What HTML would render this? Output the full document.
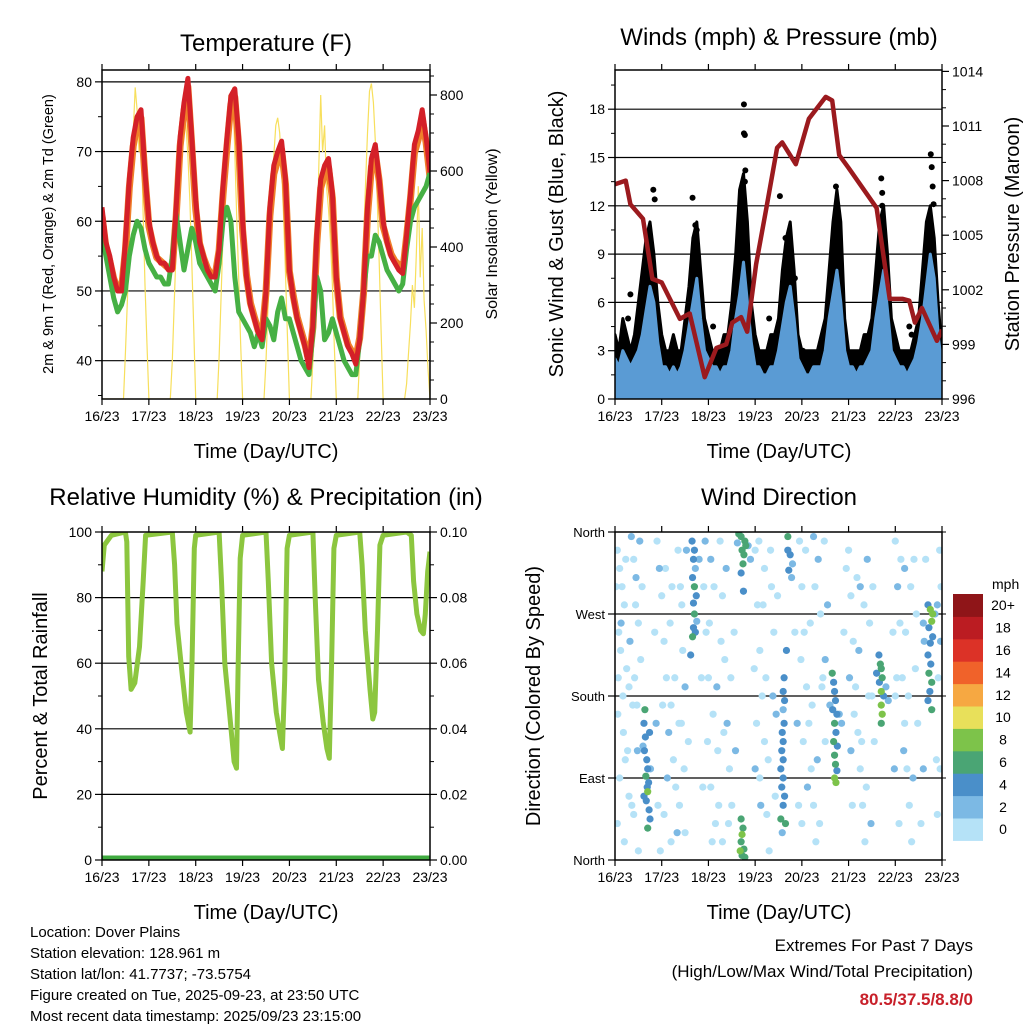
<!DOCTYPE html>
<html><head><meta charset="utf-8"><style>
html,body{margin:0;padding:0;background:#fff;}
svg{display:block;font-family:"Liberation Sans",Arial,sans-serif;}
</style></head><body>
<svg id="c" width="1024" height="1024" viewBox="0 0 1024 1024" xmlns="http://www.w3.org/2000/svg">
<defs>
<clipPath id="cp1"><rect x="102" y="70" width="328" height="329"/></clipPath>
<clipPath id="cp2"><rect x="615" y="70" width="327" height="329"/></clipPath>
<clipPath id="cp3"><rect x="102" y="532" width="328" height="328"/></clipPath>
<clipPath id="cp4"><rect x="615" y="532" width="327" height="328"/></clipPath>
</defs>
<text x="266" y="51" font-size="24" text-anchor="middle">Temperature (F)</text>
<text x="779" y="45" font-size="24" text-anchor="middle">Winds (mph) &amp; Pressure (mb)</text>
<text x="266" y="505" font-size="24" text-anchor="middle">Relative Humidity (%) &amp; Precipitation (in)</text>
<text x="779" y="505" font-size="24" text-anchor="middle">Wind Direction</text>
<text x="266" y="458" font-size="20" text-anchor="middle">Time (Day/UTC)</text>
<text x="779" y="458" font-size="20" text-anchor="middle">Time (Day/UTC)</text>
<text x="266" y="919" font-size="20" text-anchor="middle">Time (Day/UTC)</text>
<text x="779" y="919" font-size="20" text-anchor="middle">Time (Day/UTC)</text>
<text transform="translate(53,234) rotate(-90)" font-size="14.5" text-anchor="middle">2m &amp; 9m T (Red, Orange) &amp; 2m Td (Green)</text>
<text transform="translate(497,234) rotate(-90)" font-size="16" text-anchor="middle">Solar Insolation (Yellow)</text>
<text transform="translate(563,234) rotate(-90)" font-size="20" text-anchor="middle">Sonic Wind &amp; Gust (Blue, Black)</text>
<text transform="translate(1019,234) rotate(-90)" font-size="20" text-anchor="middle">Station Pressure (Maroon)</text>
<text transform="translate(47,696) rotate(-90)" font-size="20" text-anchor="middle">Percent &amp; Total Rainfall</text>
<text transform="translate(540,696) rotate(-90)" font-size="20" text-anchor="middle">Direction (Colored By Speed)</text>
<g font-size="15">
<text x="30" y="937">Location: Dover Plains</text>
<text x="30" y="958">Station elevation: 128.961 m</text>
<text x="30" y="979">Station lat/lon: 41.7737; -73.5754</text>
<text x="30" y="1000">Figure created on Tue, 2025-09-23, at 23:50 UTC</text>
<text x="30" y="1021">Most recent data timestamp: 2025/09/23 23:15:00</text>
</g>
<text x="973" y="951" font-size="17" text-anchor="end">Extremes For Past 7 Days</text>
<text x="973" y="977" font-size="17" text-anchor="end">(High/Low/Max Wind/Total Precipitation)</text>
<text x="973" y="1005" font-size="17" font-weight="bold" fill="#c8202a" text-anchor="end">80.5/37.5/8.8/0</text>
</svg>
<script>
// ---------- data ----------
const dayLabels = ["16/23","17/23","18/23","19/23","20/23","21/23","22/23","23/23"];
const tempRed = [62,57,55,52,50,50,57,66,72,75,76,67,
 60,57,55,54,54,53,53,62,72,77,80.5,72,
 63,57,55,53,52,52,56,65,72,78,79,72,
 60,52,48,46,44,43,50,62,68,70,71.5,66,
 53,49,46,44,42,39,45,58,66,68,69,64,
 52,46,44,42,41,39.5,43,50,62,69,71,66,
 60,57,55,54,53,52.5,58,64,71,73,76,72,67];
const temp9m = [61,56.5,54.5,52,50.5,50.5,56,65,71,74,75,66.5,
 59.5,57,55,54.5,54,53.5,53.5,61,71,76,79.5,71,
 62,57,55,53.5,52.5,52.5,56,64,71,77,78,71,
 59,52.5,48.5,46.5,44.5,44,50,61,67,69,70.5,65.5,
 53,49.5,46.5,44.5,42.5,40,45,57,65,67,68,63.5,
 52,46.5,44.5,42.5,41.5,40.5,43.5,50,61,68,70,66,
 59.5,57.5,55.5,54.5,54,53,58,63.5,70,72,75,71.5,66.5];
const dewGreen = [58,55,52,49,47,48,50,55,58,60,59,56,
 54,53,52,52,51,51,55,61,57,53,56,59,
 57,54,53,52,51,50,54,60,62,60,52,47,
 46,45,44,42,44,42,46,45,43,47,49,46,
 46,44,42,40,39,38,44,52,50,43,44,46,
 44,42,40,39,38,38,43,50,55,55,58,57,
 55,53,52,51,50,51,56,60,62,63,64,65,67];
const solarDays = [
 [0,120,260,420,560,700,820,760,650,720,500,300,150,0],
 [0,100,250,400,530,640,720,740,720,640,520,360,180,0],
 [0,110,270,430,580,700,800,780,820,650,480,320,150,0],
 [0,100,240,390,520,640,720,740,700,610,480,330,160,0],
 [0,100,220,380,600,800,650,720,560,500,420,300,140,0],
 [0,110,260,420,570,700,810,830,780,680,520,360,170,0],
 [0,40,120,200,300,240,380,560,320,450,260,180,80,0]];
const windBlue = [2.5,2,3,2.5,2,2.5,3,4,5.5,7,6,3.5,
 2,2,1.5,2,1.5,2,3,4.5,6,7.5,5,3,
 2.5,2,2,1.5,2,2,3,5,6.5,8.5,6,3.5,
 2,2,1.5,1.5,2,2,3,4.5,6,7,5,2.5,
 2,1.5,1.5,2,2,2,3,5,6.5,8,6,3,
 2,2,1.5,2,2,2.5,3,5,6.5,8,5.5,3,
 2.5,2,2,1.5,2,2.5,3.5,5,7,9,7.5,4,2];
const gustBlack = [4,3,5,4,3,4,6,8,10,11,9,6,
 4,3,3,4,3,3,5,7,10,11,8,5,
 4,3,3,3,4,4,6,9,13,14,11,6,
 4,3,3,3,4,4,5,8,10,11,8,4,
 3,3,3,3,3,4,5,8,11,13,11,5,
 3,3,3,3,4,4,5,8,11,12,9,5,
 4,3,3,3,3,4,5,8,11,12,10,6,3];
const gustDotDay = [0.82,0.85,1.66,1.72,1.75,2.76,2.76,2.78,2.79,2.78,3.53,3.65,3.68,3.85,4.73,4.75,4.72,5.70,5.72,5.72,6.76,6.78,6.80,6.82,0.28,0.33,1.55,2.10,3.30,4.02,5.42,6.30,6.35];
const gustDotVal = [13.0,12.4,12.5,10.8,10.5,18.3,16.5,16.4,14.2,13.5,12.6,10,9.5,7.5,13.2,12,11.2,13.7,12.8,12,15.2,14.4,13.2,12.1,5,6.5,3.5,4.5,5,3,3,4.5,4];
const presDay = [0,0.23,0.33,0.6,0.8,1.0,1.39,1.6,1.92,2.17,2.38,2.51,2.7,2.83,3.02,3.24,3.47,3.58,3.87,4.15,4.51,4.65,4.8,5.0,5.3,5.6,5.88,6.16,6.3,6.42,6.57,6.89,7.0];
const presVal = [1007.8,1008.0,1006.7,1005.9,1002.6,1002.4,1000.4,1000.7,997.2,998.8,999.0,1000.2,1000.5,999.7,1003.4,1006.5,1009.8,1010.1,1008.9,1011.4,1012.6,1012.4,1009.4,1008.7,1007.6,1006.5,1001.5,1001.5,1001.4,1000.2,1001.0,999.2,999.8];
const rhDay = [0,0.05,0.2,0.5,0.53,0.57,0.62,0.7,0.8,0.88,0.93,1.5,1.55,1.6,1.7,1.8,1.88,1.92,1.97,2.0,2.5,2.55,2.62,2.72,2.82,2.87,2.9,2.95,3.0,3.5,3.55,3.62,3.72,3.8,3.85,3.9,3.95,4.0,4.5,4.55,4.62,4.72,4.8,4.85,4.9,4.95,5.0,5.5,5.55,5.62,5.72,5.78,5.82,5.88,5.93,6.0,6.5,6.6,6.65,6.72,6.8,6.86,6.9,6.95,7.0];
const rhVal = [88,96,99,100,97,62,52,54,65,85,99,100,90,72,58,45,39,60,95,99,100,85,60,45,30,28,55,92,99,100,85,60,45,38,34,55,95,99,100,80,55,42,34,31,60,95,99,100,90,70,52,43,45,70,96,99,100,99,85,75,70,69,75,88,94];
const precipDay = [0,7];
const precipVal = [0,0];
const wdDay = [0.62,0.65,0.63,0.68,0.7,0.66,0.72,0.7,0.67,0.73,0.75,0.7,0.6,0.74,0.64,0.69,0.62,0.76,
 1.65,1.7,1.68,1.72,1.66,1.7,1.74,1.68,1.7,1.75,1.68,1.72,1.66,1.62,1.8,
 2.65,2.7,2.78,2.8,2.72,2.76,2.74,2.85,2.9,2.7,2.62,2.75,2.7,2.74,2.72,2.7,2.76,2.72,2.68,2.78,
 3.6,3.63,3.6,3.62,3.58,3.6,3.57,3.6,3.55,3.6,3.57,3.63,3.6,3.55,3.65,3.58,3.62,3.67,3.7,3.75,3.8,3.72,3.78,3.7,
 4.65,4.68,4.7,4.72,4.66,4.75,4.7,4.73,4.68,4.76,4.7,4.72,4.75,4.7,4.73,4.8,4.85,4.6,
 5.65,5.68,5.7,5.72,5.66,5.7,5.75,5.7,5.72,5.7,5.8,5.85,5.6,
 6.7,6.75,6.8,6.78,6.72,6.8,6.75,6.7,6.76,6.72,6.78,6.74,6.7,6.78,6.85,6.6,6.62,6.9,
 0.05,0.1,0.15,0.2,0.08,0.12,0.25,0.3,0.06,0.18,0.22,0.1,0.3,0.05,0.2,0.35,0.4,0.45,0.5,0.42,0.38,0.48,0.4,0.5,
 0.9,0.95,1.0,1.05,1.1,1.2,1.15,1.25,1.3,1.05,1.2,1.35,1.4,1.45,1.5,1.42,1.38,1.5,
 1.9,1.95,2.0,2.1,2.2,2.05,2.15,2.25,2.3,2.35,2.4,2.45,2.5,2.3,2.05,
 3.0,3.05,3.1,3.15,3.2,3.1,3.25,3.3,3.35,3.4,3.45,3.0,3.2,
 3.95,4.0,4.05,4.1,4.15,4.2,4.25,4.3,4.35,4.4,4.45,4.5,4.0,4.25,4.5,
 5.0,5.05,5.1,5.15,5.2,5.25,5.3,5.35,5.4,5.45,5.5,5.05,5.25,
 6.0,6.05,6.1,6.15,6.2,6.25,6.3,6.35,6.4,6.45,6.0,6.2,6.95,6.98,6.96,6.9];
const wdDir = [150,135,120,110,100,92,85,75,65,55,45,35,125,140,165,80,70,100,
 350,340,330,320,310,300,290,282,270,262,255,250,245,225,330,
 358,355,350,345,340,335,325,345,330,315,348,295,45,35,28,20,12,5,10,3,
 185,175,165,150,140,130,120,110,100,90,80,70,60,45,40,30,200,230,340,335,325,318,310,355,
 205,195,185,175,165,160,150,140,130,125,115,105,98,90,85,160,150,170,
 225,215,210,200,195,185,180,170,160,150,190,175,205,
 280,275,270,262,255,245,238,225,215,205,195,185,175,165,270,260,240,280,
 340,320,300,280,250,230,210,190,160,140,110,90,70,40,20,355,330,310,260,200,170,120,50,10,
 350,320,290,240,200,170,140,110,80,50,20,340,300,230,190,150,60,30,
 300,250,200,160,120,80,40,350,290,220,150,100,60,20,330,
 340,280,230,180,130,90,50,10,300,250,160,100,320,
 350,300,250,190,150,100,60,20,330,270,200,130,40,355,220,
 340,290,240,190,140,100,60,20,330,260,180,120,300,
 350,300,260,200,150,100,60,20,330,270,180,320,340,300,100,50];
const wdSpd = [4,4,4,4,4,6,4,8,4,4,4,6,2,4,6,4,4,2,
 4,4,4,2,4,6,4,4,6,2,4,4,6,4,2,
 6,6,6,6,6,6,6,2,2,4,2,4,6,6,8,6,6,6,8,6,
 4,4,2,4,4,4,4,4,4,4,4,4,4,6,6,2,4,4,4,4,2,4,2,6,
 6,4,4,4,4,4,6,4,6,4,6,6,4,8,8,2,2,2,
 4,6,6,6,4,8,4,8,8,6,2,2,4,
 4,8,8,8,4,4,4,4,4,6,6,4,4,6,2,2,2,2,
 0,0,0,0,0,0,0,0,0,0,0,0,0,0,0,2,0,2,0,0,0,2,0,0,
 0,2,0,0,0,0,2,0,0,0,0,0,0,0,2,0,0,0,
 0,0,0,0,0,0,0,0,0,0,2,0,0,0,2,
 0,0,0,0,0,0,0,0,0,0,2,2,0,
 0,0,0,0,0,0,0,0,2,0,0,0,0,2,2,
 0,0,0,0,0,0,0,0,2,0,0,2,2,
 0,2,0,0,0,0,0,0,0,0,0,2,0,0,0,0];
const wdLightDay = [0.02,0.07,0.13,0.17,0.23,0.27,0.32,0.36,0.44,0.47,0.53,0.55,0.58,0.85,0.88,0.92,0.97,1.02,1.08,1.12,1.18,1.22,1.28,1.33,1.37,1.43,1.48,1.53,1.57,1.85,1.88,1.93,1.98,2.02,2.08,2.12,2.18,2.22,2.27,2.33,2.38,2.43,2.48,2.55,2.58,2.98,3.03,3.08,3.12,3.17,3.23,3.28,3.33,3.38,3.43,3.48,3.85,3.9,3.93,3.98,4.03,4.08,4.12,4.18,4.22,4.28,4.33,4.38,4.43,4.48,4.55,4.9,4.95,5.02,5.08,5.12,5.18,5.22,5.28,5.33,5.38,5.43,5.48,5.52,5.55,5.95,5.98,6.03,6.08,6.12,6.18,6.22,6.28,6.33,6.38,6.43,6.48,6.55,6.6,6.65,6.88,6.92,6.97];
const wdLightDir = [300,200,260,180,330,120,240,60,280,170,350,220,300,250,150,60,10,170,320,90,260,300,200,30,150,280,100,340,130,200,80,350,130,260,20,300,190,60,240,140,320,40,200,250,120,210,150,350,60,280,200,110,340,180,70,290,250,150,60,220,130,340,80,260,170,300,110,40,190,350,280,250,320,200,60,160,310,230,130,280,80,180,40,300,130,250,100,200,40,330,120,250,180,300,90,210,150,40,100,330,110,200,240];
const wdLightSpd = [0,0,2,0,0,0,2,0,0,0,2,0,0,0,2,0,0,0,0,2,0,0,0,2,0,0,0,2,0,0,0,2,0,0,0,0,2,0,0,0,2,0,0,0,2,0,0,0,2,0,0,0,0,2,0,0,0,2,0,0,0,0,2,0,0,0,2,0,0,0,2,0,0,2,0,0,0,2,0,0,0,0,2,0,0,0,2,0,0,0,2,0,0,0,2,0,0,0,2,0,0,0,2];
const cbLabels = ["0","2","4","6","8","10","12","14","16","18","20+"];
const cbColors = ["#b5e2f7","#7cb9e4","#4a8fc9","#4aa574","#7dc34a","#e8e05a","#f6a842","#f0622a","#dc3227","#bb1c22","#8f1518"];

// ---------- helpers ----------
const NS = "http://www.w3.org/2000/svg";
const svg = document.getElementById("c");
function mk(tag, attrs, parent){const e=document.createElementNS(NS,tag);for(const k in attrs)e.setAttribute(k,attrs[k]);(parent||svg).appendChild(e);return e;}
function txt(s, attrs, parent){const e=mk("text",attrs,parent);e.textContent=s;return e;}

const P1={x0:102,x1:430,y0:70,y1:399}, P2={x0:615,x1:942,y0:70,y1:399}, P3={x0:102,x1:430,y0:532,y1:860}, P4={x0:615,x1:942,y0:532,y1:860};
function xs(P){return d=>P.x0+d*(P.x1-P.x0)/7;}
const x1=xs(P1), x2=xs(P2), x3=xs(P3), x4=xs(P4);
const yT=v=>399-(v-34.5)*(329/47.2);
const yS=v=>399-v*0.38;
const yW=v=>399-v*16.1;
const yP=p=>399-(p-996)*18.2;
const yR=v=>860-v*3.28;
const yD=d=>860-d*328/360;

function frame(P,name){
  const g=mk("g",{});
  
  
  const xf=xs(P);
  for(let i=0;i<8;i++){
    const X=xf(i);
    mk("line",{x1:X,y1:P.y1,x2:X,y2:P.y1+6,stroke:"#000","stroke-width":1.2},g);
    mk("line",{x1:X,y1:P.y0,x2:X,y2:P.y0-6,stroke:"#000","stroke-width":1.2},g);
    const t=txt(dayLabels[i],{x:X,y:P.y1+22,"font-size":14,"text-anchor":"middle"},g);
    
    
  }
  return g;
}
function border(P,name){
  const r=mk("rect",{x:P.x0,y:P.y0,width:P.x1-P.x0,height:P.y1-P.y0,fill:"none",stroke:"#000","stroke-width":1.5});
  
  
}
function hgrid(P,ys){for(const y of ys){const l=mk("line",{x1:P.x0,y1:y,x2:P.x1,y2:y,stroke:"#000","stroke-width":1.2});
  
  }}
function yticks(P,side,vals,fy,fmt,minor,name){
  const g=mk("g",{});
  
  
  const X=side==="l"?P.x0:P.x1, dir=side==="l"?-1:1;
  for(const v of minor){const y=fy(v);if(y<P.y0-0.5||y>P.y1+0.5)continue;mk("line",{x1:X,y1:y,x2:X+dir*4,y2:y,stroke:"#000","stroke-width":1},g);}
  for(const v of vals){const y=fy(v);mk("line",{x1:X,y1:y,x2:X+dir*7,y2:y,stroke:"#000","stroke-width":1.2},g);
    const t=txt(fmt(v),{x:X+dir*10,y:y+5,"font-size":14,"text-anchor":side==="l"?"end":"start"},g);
    
    }
}
function path(pts){return pts.map((p,i)=>(i?"L":"M")+p[0].toFixed(1)+","+p[1].toFixed(1)).join("");}

// ---------- Panel 1 ----------
frame(P1,"temperature");
hgrid(P1,[40,50,60,70,80].map(yT));
const g1=mk("g",{"clip-path":"url(#cp1)"});


const solarPts=[];
solarPts.push([x1(0),yS(0)]);
solarDays.forEach((arr,d)=>arr.forEach((v,i)=>solarPts.push([x1(d+(11+i)/24),yS(v)])));
const sol=mk("path",{d:path(solarPts),fill:"none",stroke:"#f7df5c","stroke-width":1.2},g1);


const o=mk("path",{d:path(temp9m.map((v,i)=>[x1(i/12),yT(v)+1.5])),fill:"none",stroke:"#f07f2a","stroke-width":7,"stroke-linejoin":"round"},g1);


const gr=mk("path",{d:path(dewGreen.map((v,i)=>[x1(i/12),yT(v)])),fill:"none",stroke:"#46b044","stroke-width":5,"stroke-linejoin":"round"},g1);


const rd=mk("path",{d:path(tempRed.map((v,i)=>[x1(i/12),yT(v)])),fill:"none",stroke:"#d42028","stroke-width":5,"stroke-linejoin":"round"},g1);


yticks(P1,"l",[40,50,60,70,80],yT,v=>String(v),[35,45,55,65,75],"temp-y-axis");
yticks(P1,"r",[0,200,400,600,800],yS,v=>String(v),[50,100,150,250,300,350,450,500,550,650,700,750,850],"solar-y-axis");
border(P1,"temperature");

// ---------- Panel 2 ----------
frame(P2,"winds");
hgrid(P2,[3,6,9,12,15,18].map(yW));
const g2=mk("g",{"clip-path":"url(#cp2)"});


const gustTop=gustBlack.map((v,i)=>[x2(i/12),yW(v)]);
const gb=mk("path",{d:path(gustTop)+"L"+x2(7)+","+yW(0)+"L"+x2(0)+","+yW(0)+"Z",fill:"#000",stroke:"#000","stroke-width":3,"stroke-linejoin":"round"},g2);


gustDotDay.forEach((d,i)=>{const c=mk("circle",{cx:x2(d),cy:yW(gustDotVal[i]),r:3,fill:"#000"},g2);
  
  });
const bl=mk("path",{d:path(windBlue.map((v,i)=>[x2(i/12),yW(v)]))+"L"+x2(7)+","+yW(0)+"L"+x2(0)+","+yW(0)+"Z",fill:"#5a9bd4",stroke:"#5a9bd4","stroke-width":3,"stroke-linejoin":"round"},g2);


const pr=mk("path",{d:path(presDay.map((d,i)=>[x2(d),yP(presVal[i])])),fill:"none",stroke:"#9b1a1e","stroke-width":4.5,"stroke-linejoin":"round"},g2);


yticks(P2,"l",[0,3,6,9,12,15,18],yW,v=>String(v),[1.5,4.5,7.5,10.5,13.5,16.5,19.5],"wind-y-axis");
yticks(P2,"r",[996,999,1002,1005,1008,1011,1014],yP,v=>String(v),[997,998,1000,1001,1003,1004,1006,1007,1009,1010,1012,1013],"pressure-y-axis");
border(P2,"winds");

// ---------- Panel 3 ----------
frame(P3,"humidity");
hgrid(P3,[20,40,60,80].map(yR));
const g3=mk("g",{"clip-path":"url(#cp3)"});


const rh=mk("path",{d:path(rhDay.map((d,i)=>[x3(d),yR(rhVal[i])])),fill:"none",stroke:"#8cc63f","stroke-width":5,"stroke-linejoin":"round"},g3);


const pc=mk("path",{d:path(precipDay.map((d,i)=>[x3(d),yR(precipVal[i]*1000)])),fill:"none",stroke:"#3faa3f","stroke-width":9},g3);


yticks(P3,"l",[0,20,40,60,80,100],yR,v=>String(v),[10,30,50,70,90],"rh-y-axis");
yticks(P3,"r",[0,20,40,60,80,100],yR,v=>(v/1000).toFixed(2),[10,30,50,70,90],"precip-y-axis");
border(P3,"humidity");

// ---------- Panel 4 ----------
frame(P4,"wind-direction");
hgrid(P4,[90,180,270].map(yD));
const g4=mk("g",{"clip-path":"url(#cp4)"});


wdLightDay.forEach((d,i)=>{const c=mk("circle",{cx:x4(d),cy:yD(wdLightDir[i]),r:3.6,fill:cbColors[Math.min(10,Math.floor(wdLightSpd[i]/2))]},g4);
  
  });
const order=wdDay.map((d,i)=>i).sort((a,b)=>wdSpd[a]-wdSpd[b]);
order.forEach(i=>{const c=mk("circle",{cx:x4(wdDay[i]),cy:yD(wdDir[i]),r:3.6,fill:cbColors[Math.min(10,Math.floor(wdSpd[i]/2))]},g4);
  
  });
const dirLabels=["North","East","South","West","North"];
const gd=mk("g",{});


dirLabels.forEach((s,i)=>{const y=yD(i*90);mk("line",{x1:P4.x0,y1:y,x2:P4.x0-7,y2:y,stroke:"#000","stroke-width":1.2},gd);
  const t=txt(s,{x:P4.x0-10,y:y+5,"font-size":13,"text-anchor":"end"},gd);
  
  
  mk("line",{x1:P4.x1,y1:y,x2:P4.x1+4,y2:y,stroke:"#000","stroke-width":1},gd);});
border(P4,"wind-direction");
const cb=mk("g",{});


const cbTop=594, cbH=22.4;
const ut=txt("mph",{x:992,y:589,"font-size":14},cb);


cbColors.forEach((c,i)=>{const y=cbTop+(10-i)*cbH;
  const r=mk("rect",{x:953,y:y,width:30,height:cbH+0.5,fill:c},cb);
  
  
  const t=txt(cbLabels[i],{x:1003,y:y+cbH/2+5,"font-size":14,"text-anchor":"middle"},cb);
  
  });
</script>
</body></html>
